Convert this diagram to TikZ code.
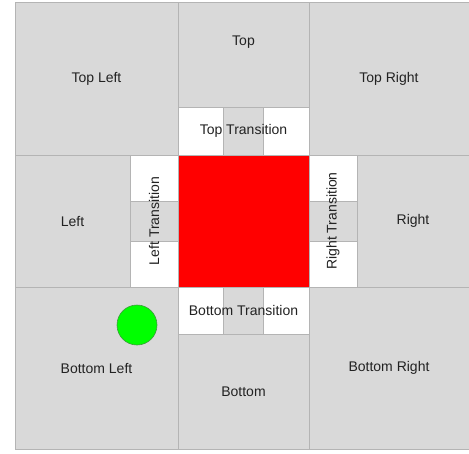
\documentclass[tikz,border=0pt]{standalone}
\usepackage{fontspec}
\setmainfont{Liberation Sans}
\definecolor{cellgray}{HTML}{D9D9D9}
\definecolor{linegray}{HTML}{B4B4B4}
\definecolor{textgray}{HTML}{222222}
\definecolor{ballgreen}{HTML}{00FF00}
\definecolor{balledge}{HTML}{3C9A3C}
\begin{document}
\begin{tikzpicture}[x=1pt, y=-1pt]
        \tikzstyle{cell} = [shape = rectangle, fill = cellgray, draw = linegray, line width = 0.8pt, inner sep = 0pt, text = textgray, font = \fontsize{14}{16}\selectfont]
        \tikzstyle{trans} = [cell, fill = white]
        \tikzstyle{strip} = [cell]
        \tikzstyle{trans_label} = [text = textgray, inner sep = 0pt, font = \fontsize{14}{16}\selectfont]

        \useasboundingbox (0, 0) rectangle (469, 453);

        \node[cell, minimum width=163, minimum height=153] at (96.5, 78.5) (top_left) {Top Left};

        \node[cell, minimum width=131, minimum height=105, label={[trans_label, yshift=12.5pt]center:Top}] at (243.5, 54.5) (top) {};

        \node[cell, minimum width=160, minimum height=153] at (389, 78.5) (top_right) {Top Right};

        \node[cell, minimum width=115, minimum height=132] at (72.5, 221) (left) {Left};

        \node[cell, minimum width=112, minimum height=132] at (413, 221) (right) {Right};

        \node[cell, minimum width=163, minimum height=162] at (96.5, 368) (bottom_left) {Bottom Left};

        \node[cell, minimum width=131, minimum height=115] at (243.5, 391.5) (bottom) {Bottom};

        \node[cell, minimum width=160, minimum height=162] at (389, 368) (bottom_right) {Bottom Right};

        \node[cell, fill=red, draw=red, minimum width=131, minimum height=132] at (243.5, 221) (target) {};

        % transitions
        \node[trans, minimum width=131, minimum height=48] at (243.5, 131) (top_trans) {};
        \node[strip, minimum width=40, minimum height=48] at (top_trans) (top_strip) {};
        \node[trans_label] at (top_trans) (top_trans_l) {Top Transition};

        \node[trans, minimum width=131, minimum height=47] at (243.5, 310.5) (bottom_trans) {};
        \node[strip, minimum width=40, minimum height=47] at (bottom_trans) (bottom_strip) {};
        \node[trans_label] at (bottom_trans) (bottom_trans_l) {Bottom Transition};

        \node[trans, minimum width=48, minimum height=132] at (154, 221) (left_trans) {};
        \node[strip, minimum width=48, minimum height=40] at (left_trans) (left_strip) {};
        \node[trans_label, rotate=90] at (left_trans) (left_trans_l) {Left Transition};

        \node[trans, minimum width=48, minimum height=132] at (333, 221) (right_trans) {};
        \node[strip, minimum width=48, minimum height=40] at (right_trans) (right_strip) {};
        \node[trans_label, rotate=90] at (right_trans) (right_trans_l) {Right Transition};

        \node[shape = circle, fill = ballgreen, draw = balledge, line width = 0.6pt, minimum size = 40pt, inner sep = 0pt] at (137, 325) (ball) {};
      \end{tikzpicture}
\end{document}
